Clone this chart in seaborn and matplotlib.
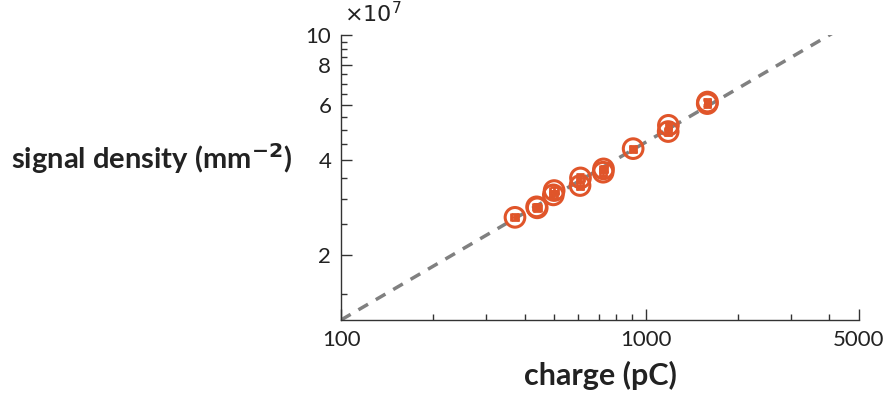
import numpy as np
import pandas as pd
import matplotlib
matplotlib.use("Agg")
import matplotlib.pyplot as plt
import matplotlib.ticker as mticker
import seaborn as sns

# === data ===
charge = [372, 440, 438, 497, 500, 608, 610, 724, 726, 908, 1183, 1185, 1589, 1592]   # pC
density = [2.63, 2.82, 2.84, 3.10, 3.20, 3.32, 3.51, 3.66, 3.75, 4.35, 4.93, 5.16, 6.05, 6.12]  # x1e7 mm^-2
charge_err = [10, 12, 12, 14, 14, 16, 16, 18, 18, 20, 25, 25, 30, 30]
density_err = [0.06, 0.07, 0.07, 0.08, 0.08, 0.08, 0.09, 0.09, 0.09, 0.10, 0.12, 0.12, 0.14, 0.14]

# power-law guide line: density = fit_amp * (charge / 100) ** fit_exp
fit_amp = 1.24
fit_exp = 0.566
fit_range = [100, 5000]

x_ticks = [100, 1000, 5000]
y_ticks = [2, 4, 6, 8, 10]

df = pd.DataFrame({"charge": charge, "density": np.array(density) * 1e7})

sns.set_style("ticks")
plt.rcParams["font.family"] = ["Lato", "DejaVu Sans"]
orange = "#E0552A"

fig = plt.figure(figsize=(8.89, 3.96), dpi=100)
ax = fig.add_axes([0.3836, 0.192, 0.5827, 0.7196])

# guide line
xs = np.logspace(np.log10(fit_range[0]), np.log10(fit_range[1]), 50)
fit_df = pd.DataFrame({"charge": xs, "density": fit_amp * 1e7 * (xs / 100) ** fit_exp})
sns.lineplot(data=fit_df, x="charge", y="density", ax=ax, color="#808080",
             linewidth=2.5, linestyle=(0, (3.2, 2.6)), zorder=1)

# error bars + open circles
ax.errorbar(charge, df["density"], xerr=charge_err, yerr=np.array(density_err) * 1e7,
            fmt="none", ecolor=orange, elinewidth=2, capsize=3, capthick=2, zorder=2)
sns.scatterplot(data=df, x="charge", y="density", ax=ax, s=200, marker="o",
                facecolor="none", edgecolor=orange, linewidth=2.2, zorder=3)

ax.set_xscale("log")
ax.set_yscale("log")
ax.set_xlim(100, 5000)
ax.set_ylim(1.24e7, 1e8)

ax.xaxis.set_major_locator(mticker.FixedLocator(x_ticks))
ax.xaxis.set_major_formatter(mticker.FixedFormatter([str(v) for v in x_ticks]))
ax.xaxis.set_minor_locator(mticker.FixedLocator([200, 300, 400, 500, 600, 700, 800, 900,
                                                  2000, 3000, 4000]))
ax.xaxis.set_minor_formatter(mticker.NullFormatter())

ax.yaxis.set_major_locator(mticker.FixedLocator([v * 1e7 for v in y_ticks]))
ax.yaxis.set_major_formatter(mticker.FixedFormatter([str(v) for v in y_ticks]))
ax.yaxis.set_minor_locator(mticker.FixedLocator([v * 1e7 for v in np.arange(1.5, 10, 0.5)
                                                  if v not in y_ticks]))
ax.yaxis.set_minor_formatter(mticker.NullFormatter())

ax.tick_params(which="both", direction="in", colors="#333333", labelsize=16,
               width=1, labelcolor="#222222")
ax.tick_params(which="major", length=8, pad=7)
ax.tick_params(which="minor", length=4)
for side in ["left", "bottom"]:
    ax.spines[side].set_color("#333333")
    ax.spines[side].set_linewidth(1)
sns.despine(ax=ax)

ax.set_xlabel("charge (pC)", fontsize=22, fontweight="bold", color="#222222", labelpad=8)
ax.set_ylabel("")
fig.text(0.012, 0.6, "signal density (mm$^{\\mathbf{-2}}$)", fontsize=21, fontweight="bold",
         color="#222222", va="center", ha="left")
ax.text(0.005, 1.03, "$\\times10^7$", transform=ax.transAxes, fontsize=16, color="#222222",
        ha="left", va="bottom")

fig.savefig("out.png", dpi=100)
